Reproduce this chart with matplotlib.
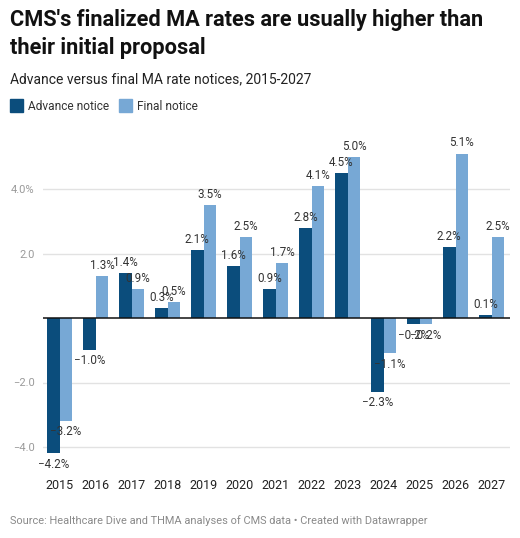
import matplotlib
matplotlib.use("Agg")
import matplotlib.pyplot as plt
import numpy as np
from matplotlib.patches import Rectangle

plt.rcParams['font.family'] = ['Roboto', 'DejaVu Sans']

years = ['2015', '2016', '2017', '2018', '2019', '2020', '2021', '2022',
         '2023', '2024', '2025', '2026', '2027']
advance = [-4.2, -1.0, 1.4, 0.3, 2.1, 1.6, 0.9, 2.8, 4.5, -2.3, -0.2, 2.2, 0.1]
final = [-3.2, 1.3, 0.9, 0.5, 3.5, 2.5, 1.7, 4.1, 5.0, -1.1, -0.2, 5.1, 2.5]
yticks = [-4, -2, 2, 4]
ytick_labels = ['\u22124.0', '\u22122.0', '2.0', '4.0%']

c_adv = '#0b4d7c'
c_fin = '#77a8d5'

W, H = 520, 538
fig = plt.figure(figsize=(W / 100, H / 100), dpi=100)

def fx(px):
    return px / W

def fy(py):
    return 1 - py / H

ax_left, ax_right = 43, 510
ax_top, ax_bot = 145, 468
ax = fig.add_axes([fx(ax_left), fy(ax_bot), fx(ax_right - ax_left), fy(ax_top) - fy(ax_bot)])

x = np.arange(len(years))
bw = 0.353
b1 = ax.bar(x - bw / 2, advance, bw, color=c_adv, zorder=3)
b2 = ax.bar(x + bw / 2, final, bw, color=c_fin, zorder=3)

fmt = lambda v: ('%.1f%%' % v).replace('-', '\u2212')
ax.bar_label(b1, labels=[fmt(v) for v in advance], padding=3, fontsize=8.4, color='#333333', zorder=4)
ax.bar_label(b2, labels=[fmt(v) for v in final], padding=3, fontsize=8.4, color='#333333', zorder=4)

ax.set_xlim(-0.464, 12.51)
px_per_unit = 32.25
zero_px = 318
ax.set_ylim(-(ax_bot - zero_px) / px_per_unit, (zero_px - ax_top) / px_per_unit)

for t in yticks:
    ax.axhline(t, color='#e2e2e2', lw=1, zorder=1)
ax.axhline(0, color='#111111', lw=1.1, zorder=5)

ax.set_yticks(yticks)
ax.set_yticklabels(ytick_labels, fontsize=8, color='#9a9a9a')
ax.set_xticks(x)
ax.set_xticklabels(years, fontsize=9, color='#222222')
ax.tick_params(axis='both', length=0)
ax.tick_params(axis='y', pad=6)
ax.tick_params(axis='x', pad=8)
for s in ax.spines.values():
    s.set_visible(False)

# Title & subtitle
fig.text(fx(10), fy(9), "CMS's finalized MA rates are usually higher than\ntheir initial proposal",
         fontsize=15.7, fontweight='bold', color='#111111', va='top', ha='left', linespacing=1.38)
fig.text(fx(10), fy(72), 'Advance versus final MA rate notices, 2015-2027',
         fontsize=10.0, color='#222222', va='top', ha='left')

# Legend
fig.patches.append(Rectangle((fx(10), fy(112)), fx(13), fy(99) - fy(112), transform=fig.transFigure,
                             color=c_adv, figure=fig))
fig.text(fx(28), fy(106), 'Advance notice', fontsize=8.6, color='#333333', va='center', ha='left')
fig.patches.append(Rectangle((fx(119), fy(112)), fx(13), fy(99) - fy(112), transform=fig.transFigure,
                             color=c_fin, figure=fig))
fig.text(fx(137), fy(106), 'Final notice', fontsize=8.6, color='#333333', va='center', ha='left')

# Source
fig.text(fx(10), fy(521), 'Source: Healthcare Dive and THMA analyses of CMS data \u2022 Created with Datawrapper',
         fontsize=7.9, color='#8a8a8a', va='center', ha='left')

fig.savefig('out.png', dpi=100, facecolor='white')
